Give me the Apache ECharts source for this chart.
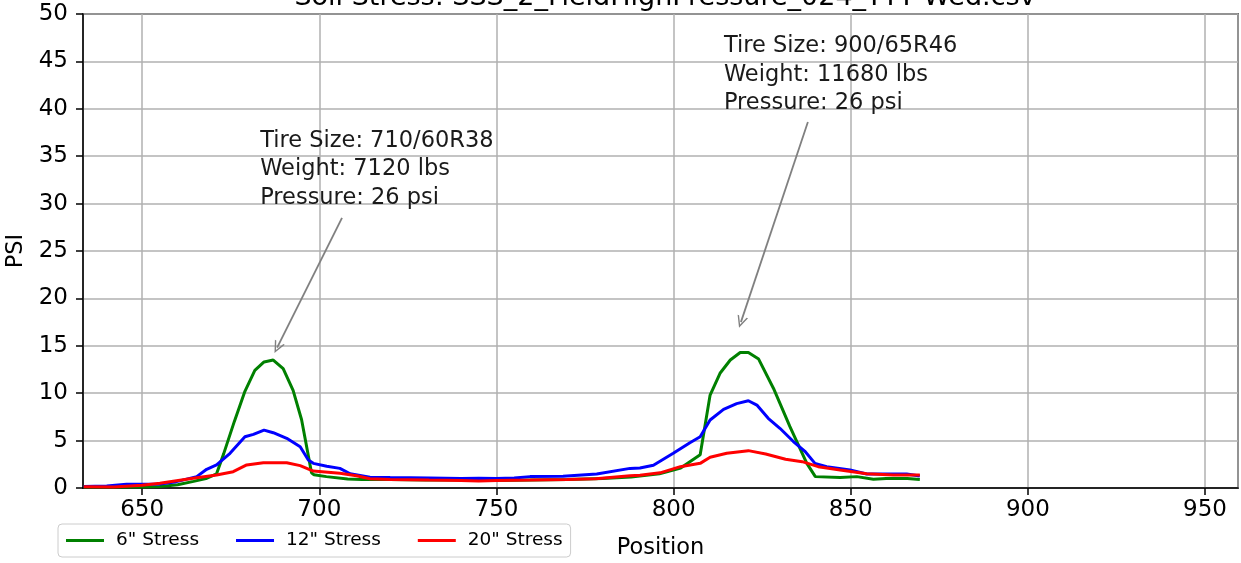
<!DOCTYPE html>
<html>
<head>
<meta charset="utf-8">
<script src="https://cdn.jsdelivr.net/npm/echarts@6/dist/echarts.min.js"></script>
<style>
  html, body { margin: 0; padding: 0; background: #fff; }
  #main { width: 1241px; height: 563px; }
</style>
</head>
<body>
<div id="main"></div>
<script>
// position / psi pairs
const stress6 = [[633.5,0.1],[642,0.1],[650,0.1],[655,0.15],[660,0.35],[664.5,0.7],[668,1.0],[671,1.5],[673,3.6],[676,7.0],[679,10.2],[681.8,12.4],[684.4,13.3],[687,13.5],[689.8,12.6],[692.6,10.3],[695,7.2],[697.8,1.6],[698.5,1.4],[702,1.2],[708,0.95],[712,0.9],[720,0.9],[730,0.85],[740,0.85],[750,0.8],[760,0.85],[770,0.9],[780,1.0],[788,1.15],[796,1.5],[802,2.1],[807.5,3.5],[810.3,9.8],[813.1,12.1],[816,13.5],[818.8,14.3],[821.1,14.3],[824,13.6],[828.2,10.5],[832.8,6.5],[837.6,2.6],[840,1.2],[847,1.1],[851.7,1.2],[856.4,0.92],[860,1.0],[866,1.0],[869.5,0.9]];
const stress12 = [[633.5,0.15],[640,0.2],[645.6,0.4],[655,0.42],[659.7,0.67],[665.4,1.2],[668.2,1.97],[671,2.43],[674.8,3.66],[679,5.4],[681.4,5.66],[684.4,6.1],[687,5.83],[690.8,5.24],[694.6,4.36],[696.9,2.95],[698.3,2.6],[702.1,2.3],[705.8,2.07],[708.7,1.5],[714.3,1.13],[720,1.1],[731,1.06],[740,1.0],[745,1.02],[750,1.0],[755,1.05],[759.5,1.2],[768.8,1.25],[778.3,1.48],[787.7,2.07],[790.5,2.1],[794.3,2.4],[799.9,3.66],[804.6,4.78],[807.5,5.4],[810.3,7.17],[814.1,8.3],[817.8,8.9],[821.1,9.2],[823.5,8.75],[826.7,7.35],[830,6.3],[833.8,4.9],[837,3.9],[839.9,2.6],[843.2,2.25],[849.8,1.9],[854.5,1.48],[860,1.48],[865.8,1.48],[869.5,1.27]];
const stress20 = [[633.5,0.14],[642,0.1],[650,0.3],[655,0.49],[664.4,1.02],[671,1.37],[675.7,1.72],[679.5,2.43],[684.2,2.67],[690.8,2.67],[694.6,2.36],[698.3,1.79],[705.8,1.55],[710.5,1.3],[714.3,0.98],[720,0.9],[731,0.84],[740,0.8],[745,0.74],[750,0.8],[759.5,0.84],[770,0.9],[778,0.98],[787.7,1.3],[790.5,1.35],[796.2,1.6],[801.9,2.25],[807.5,2.6],[810.3,3.24],[815,3.66],[821.1,3.94],[826,3.59],[831.6,3.03],[836.3,2.78],[840.8,2.25],[847,1.9],[854.5,1.5],[862,1.37],[869.5,1.37]];

const seriesNames = ['6" Stress', '12" Stress', '20" Stress'];
const seriesColors = ['#008000', '#0000ff', '#ff0000'];

// annotation text anchors (top-left) and arrows [from, to] in data units
const noteTexts = [
  'Tire Size: 710/60R38\nWeight: 7120 lbs\nPressure: 26 psi',
  'Tire Size: 900/65R46\nWeight: 11680 lbs\nPressure: 26 psi'
];
const noteAnchors = [[683.3, 38.1], [814.2, 48.1]];
const noteArrows = [
  [[706.4, 28.5], [688.1, 14.8]],
  [[837.9, 38.6], [819.0, 17.5]]
];

const FONT = 'DejaVu Sans';
// open "->" head, tip on top
const OPEN_ARROW = 'path://M0,10 L5,0 L10,10 L8.6,10 L5,2.8 L1.4,10 Z';
const chart = echarts.init(document.getElementById('main'));

const series = [stress6, stress12, stress20].map((d, i) => ({
  name: seriesNames[i],
  type: 'line',
  data: d,
  showSymbol: false,
  symbol: 'none',
  lineStyle: { color: seriesColors[i], width: 3 },
  itemStyle: { color: seriesColors[i] },
  z: 3 + i,
  animation: false
}));

// annotations drawn on a helper series
series.push({
  type: 'line',
  data: [],
  silent: true,
  animation: false,
  markPoint: {
    symbol: 'circle',
    symbolSize: 0,
    label: {
      show: true,
      position: [0, 0],
      align: 'left',
      verticalAlign: 'top',
      fontFamily: FONT,
      fontSize: 22.5,
      lineHeight: 28.5,
      color: '#1a1a1a',
      formatter: (p) => p.data.text
    },
    data: noteAnchors.map((c, i) => ({ coord: c, text: noteTexts[i] }))
  },
  markLine: {
    silent: true,
    symbol: ['none', OPEN_ARROW],
    symbolSize: [11, 12],
    label: { show: false },
    lineStyle: { color: '#808080', width: 1.8, type: 'solid' },
    data: noteArrows.map(a => [{ coord: a[0] }, { coord: a[1] }])
  }
});

chart.setOption({
  backgroundColor: '#fff',
  animation: false,
  title: {
    text: 'Soil Stress: SSS_2_FieldHighPressure_024_TTT Wed.csv',
    left: 660,
    textAlign: 'center',
    top: -21,
    textStyle: { fontFamily: FONT, fontSize: 27, fontWeight: 'normal', color: '#000' }
  },
  grid: {
    left: 83, right: 3, top: 14, bottom: 75,
    show: true, borderColor: '#000', borderWidth: 1.5,
    containLabel: false,
    outerBoundsMode: 'none'
  },
  legend: {
    left: 58, top: 524,
    data: seriesNames,
    icon: 'rect',
    itemWidth: 38, itemHeight: 3,
    itemGap: 37,
    padding: [7, 8],
    borderColor: '#cccccc', borderWidth: 1, borderRadius: 4,
    textStyle: { fontFamily: FONT, fontSize: 18.5, color: '#000', padding: [0, 0, 0, 7] }
  },
  xAxis: {
    type: 'value',
    min: 633.3, max: 959.3,
    splitNumber: 6, minInterval: 50, maxInterval: 50,
    name: 'Position',
    nameLocation: 'middle',
    nameGap: 49,
    nameTextStyle: { fontFamily: FONT, fontSize: 22.5, color: '#000' },
    axisLine: { show: true, lineStyle: { color: '#000', width: 1.5 } },
    axisTick: { show: true, inside: false, length: 7, lineStyle: { color: '#000', width: 1.5 } },
    axisLabel: { fontFamily: FONT, fontSize: 23, color: '#000', margin: 11, showMinLabel: false, showMaxLabel: false },
    splitLine: { show: true, lineStyle: { color: '#b0b0b0', width: 1.5 } }
  },
  yAxis: {
    type: 'value',
    min: 0, max: 50, interval: 5,
    name: 'PSI',
    nameLocation: 'middle',
    nameGap: 46,
    nameTextStyle: { fontFamily: FONT, fontSize: 22.5, color: '#000' },
    axisLine: { show: true, lineStyle: { color: '#000', width: 1.5 } },
    axisTick: { show: true, inside: false, length: 7, lineStyle: { color: '#000', width: 1.5 } },
    axisLabel: { fontFamily: FONT, fontSize: 23, color: '#000', margin: 15 },
    splitLine: { show: true, lineStyle: { color: '#b0b0b0', width: 1.5 } }
  },
  series: series
});
</script>
</body>
</html>
